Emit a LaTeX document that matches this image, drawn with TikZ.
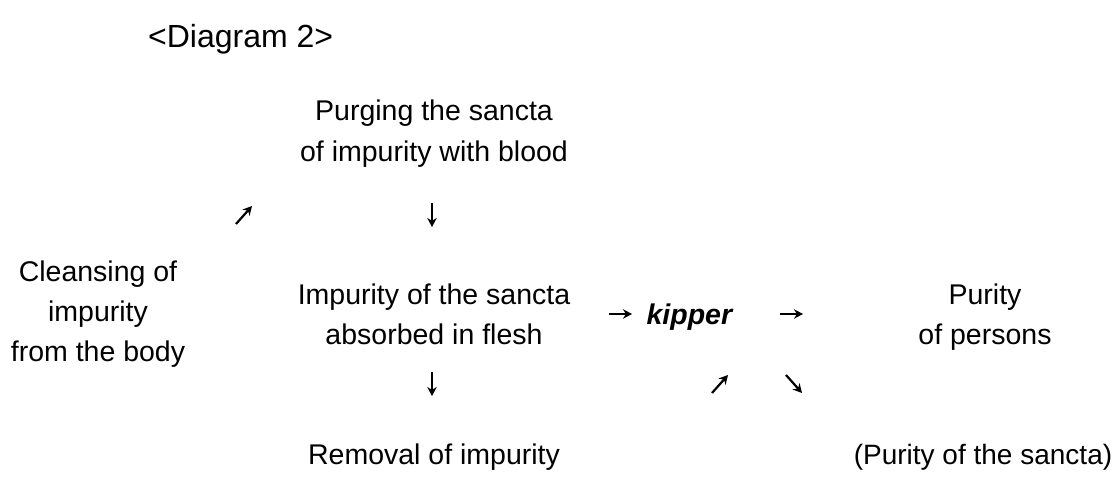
\documentclass[tikz,border=0pt]{standalone}
\usepackage{fontspec}
\setmainfont{Liberation Sans}
\usetikzlibrary{arrows.meta}
\begin{document}
\begin{tikzpicture}[x=1pt,y=-1pt,
  lbl/.style={font=\fontsize{28.5}{40}\selectfont, align=center, inner sep=0pt},
  arr/.style={line width=2.2pt, -{Stealth[length=9pt,width=9.5pt]}}]
\useasboundingbox (0,0) rectangle (1114,484);

% title
\node[lbl, font=\fontsize{32}{40}\selectfont, anchor=base west] (title) at (148,48) {<Diagram 2>};

% text blocks (base anchor = baseline of the last line)
\node[lbl, anchor=base] (purge) at (434,161) {Purging the sancta\\of impurity with blood};
\node[lbl, anchor=base] (cleanse) at (98,361) {Cleansing of\\impurity\\from the body};
\node[lbl, anchor=base] (impur) at (434,344) {Impurity of the sancta\\absorbed in flesh};
\node[lbl, anchor=base] (kip) at (690,324) {\textbf{\textit{kipper}}};
\node[lbl, anchor=base] (pers) at (985,344) {Purity\\of persons};
\node[lbl, anchor=base] (remov) at (434,464) {Removal of impurity};
\node[lbl, font=\fontsize{28}{40}\selectfont, anchor=base] (sancta) at (983,464) {(Purity of the sancta)};

% arrow ends
\coordinate (u1s) at (236,224); \coordinate (u1e) at (252,206);
\coordinate (u2s) at (432,203); \coordinate (u2e) at (432,227);
\coordinate (m1s) at (609,314); \coordinate (m1e) at (632,314);
\coordinate (m2s) at (780,314); \coordinate (m2e) at (803,314);
\coordinate (l1s) at (432,372); \coordinate (l1e) at (432,396);
\coordinate (l2s) at (712,393); \coordinate (l2e) at (728,375);
\coordinate (l3s) at (786,375); \coordinate (l3e) at (802,393);

\foreach \s/\e in {u1s/u1e,u2s/u2e,m1s/m1e,m2s/m2e,l1s/l1e,l2s/l2e,l3s/l3e}
  \draw[arr] (\s) -- (\e);
\end{tikzpicture}
\end{document}
